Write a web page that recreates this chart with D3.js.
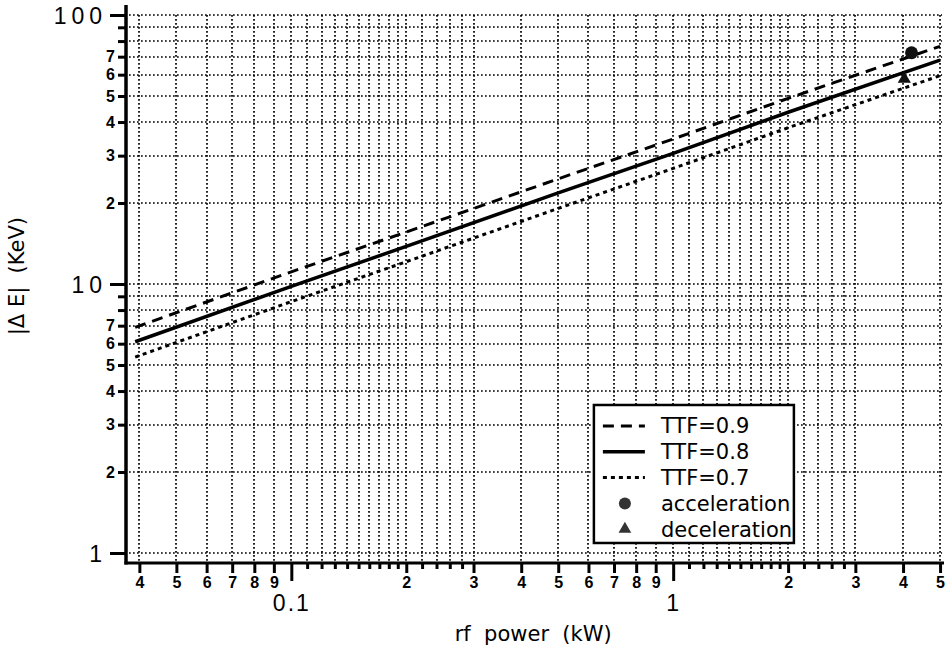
<!DOCTYPE html>
<meta charset="utf-8">
<script src="https://d3js.org/d3.v7.min.js"></script>
<style type="text/css">
body { margin:0; background:#fff; }
svg { display:block; }
.grid line { stroke:#000; stroke-width:1.7; stroke-dasharray:1.7,2.3; }
.digit { font-family:"Liberation Sans", Arial, sans-serif; font-weight:bold; font-size:16px; }
.major { font-family:"Liberation Sans", Arial, sans-serif; font-size:23px; }
.ymajor { letter-spacing:5px; }
.title, .legText { font-family:"DejaVu Sans", sans-serif; font-size:21px; white-space:pre; }
</style>
<body>
</body>
<script>

// rf power (kW) where the curves were read
var powers = [0.039, 0.1, 0.2, 0.5, 1, 2, 5];
// |dE| (KeV)
var ttf09 = [6.9, 11.1, 15.6, 24.6, 34.6, 49.0, 76.5];
var ttf08 = [6.1, 9.8, 13.8, 21.8, 30.6, 43.5, 68];
var ttf07 = [5.35, 8.6, 12.1, 19.1, 26.9, 38.1, 59.5];

// measured points
var accelP = [4.21], accelE = [72.4];
var decelP = [4.03], decelE = [57.8];

// ticks
var xDecades = [0.1, 1];
var xDecadeLabels = ["0.1", "1"];
var xLabeled = [0.04,0.05,0.06,0.07,0.08,0.09, 0.2,0.3,0.4,0.5,0.6,0.7,0.8,0.9, 2,3,4,5];
var xMinor = [0.11,0.12,0.13,0.14,0.15,0.16,0.17,0.18,0.19, 0.22,0.24,0.26,0.28,
              1.1,1.2,1.3,1.4,1.5,1.6,1.7,1.8,1.9, 2.2,2.4,2.6,2.8];
var yMajor = [1, 10, 100];
var yLabeled = [2,3,4,5,6,7, 20,30,40,50,60,70];
var yMinor = [8, 9, 80, 90];

var legendNames = ["TTF=0.9", "TTF=0.8", "TTF=0.7", "acceleration", "deceleration"];

var margin = {top: 15, right: 5, bottom: 90, left: 126};
var width = 949 - margin.left - margin.right,
    height = 653 - margin.top - margin.bottom;

var svg = d3.select('body').append('svg')
  .attr('width', 949)
  .attr('height', 653)
  .append('g')
  .attr('transform', 'translate(' + margin.left + ',' + margin.top + ')');

//scales
var xScale = d3.scaleLog()
  .domain([0.0369, 5.12])
  .range([0, width]);

var yScale = d3.scaleLog()
  .domain([0.918, 100])
  .range([height, 0]);

//grid
var gridX = xDecades.concat(xLabeled, xMinor);
var gridY = yMajor.concat(yLabeled, yMinor);

svg.append('g').attr('class','grid')
  .selectAll('line').data(gridX).enter().append('line')
  .attr('x1', function(d){return Math.round(xScale(d))}).attr('x2', function(d){return Math.round(xScale(d))})
  .attr('y1', yScale(100)).attr('y2', height);

svg.append('g').attr('class','grid')
  .selectAll('line').data(gridY).enter().append('line')
  .attr('x1', 3).attr('x2', xScale(5) + 2)
  .attr('y1', function(d){return Math.round(yScale(d))}).attr('y2', function(d){return Math.round(yScale(d))});

//x axis ticks
function styleAxis(g) {
  g.select('.domain').remove();
  g.selectAll('.tick line').attr('stroke','#000').attr('stroke-width',3);
}
function leadDigit(d) {
  return Math.round(d / Math.pow(10, Math.floor(Math.log10(d) + 1e-9)));
}

svg.append('g')
  .attr('transform','translate(0,'+height+')')
  .call(d3.axisBottom(xScale).tickValues(xMinor).tickSize(6).tickFormat(''))
  .call(styleAxis);

svg.append('g')
  .attr('transform','translate(0,'+height+')')
  .call(d3.axisBottom(xScale).tickValues(xLabeled).tickSize(10).tickPadding(4).tickFormat(leadDigit))
  .call(styleAxis)
  .selectAll('text').attr('class','digit').attr('font-family',null).attr('font-size',null);

svg.append('g')
  .attr('transform','translate(0,'+height+')')
  .call(d3.axisBottom(xScale).tickValues(xDecades).tickSize(18).tickPadding(14)
    .tickFormat(function(d,i){return xDecadeLabels[i]}))
  .call(styleAxis)
  .selectAll('text').attr('class','major').attr('font-family',null).attr('font-size',null)
  .style('letter-spacing','2px');

//y axis ticks
svg.append('g')
  .call(d3.axisLeft(yScale).tickValues(yMinor).tickSize(8).tickFormat(''))
  .call(styleAxis);

svg.append('g')
  .call(d3.axisLeft(yScale).tickValues(yLabeled).tickSize(8).tickPadding(3).tickFormat(leadDigit))
  .call(styleAxis)
  .selectAll('text').attr('class','digit').attr('font-family',null).attr('font-size',null);

svg.append('g')
  .call(d3.axisLeft(yScale).tickValues(yMajor).tickSize(16).tickPadding(3).tickFormat(d3.format('d')))
  .call(styleAxis)
  .selectAll('text').attr('class','major ymajor').attr('font-family',null).attr('font-size',null)
  .attr('dy','0.36em');

//axis lines
svg.append('line')
  .attr('x1',0).attr('x2',0)
  .attr('y1',yScale(100) - 10).attr('y2',height + 1.5)
  .attr('stroke','#000').attr('stroke-width',3.5);

svg.append('line')
  .attr('x1',-1.5).attr('x2',width)
  .attr('y1',height).attr('y2',height)
  .attr('stroke','#000').attr('stroke-width',3);

//curves
var series = [
  {name:'TTF=0.9', values:ttf09, dash:'11,7', w:3},
  {name:'TTF=0.8', values:ttf08, dash:null, w:3.5},
  {name:'TTF=0.7', values:ttf07, dash:'4,4', w:3}
];

var line = d3.line()
  .x(function(d){return xScale(d[0])})
  .y(function(d){return yScale(d[1])});

svg.selectAll('.curve')
  .data(series)
  .enter().append('path')
  .attr('class','curve')
  .attr('d', function(s){return line(powers.map(function(p,i){return [p, s.values[i]]}))})
  .attr('fill','none')
  .attr('stroke','#000')
  .attr('stroke-width', function(s){return s.w})
  .attr('stroke-dasharray', function(s){return s.dash});

//points
svg.selectAll('.accel')
  .data(accelP)
  .enter().append('circle')
  .attr('class','accel')
  .attr('cx', function(d){return xScale(d)})
  .attr('cy', function(d,i){return yScale(accelE[i])})
  .attr('r', 6.5)
  .attr('fill','#111');

svg.selectAll('.decel')
  .data(decelP)
  .enter().append('path')
  .attr('class','decel')
  .attr('transform', function(d,i){return 'translate('+xScale(d)+','+yScale(decelE[i])+')'})
  .attr('d', d3.symbol().type(d3.symbolTriangle).size(75))
  .attr('fill','#111');

//axis titles
svg.append('text')
  .attr('class','title')
  .attr('x', xScale(0.43))
  .attr('y', height + 78)
  .attr('text-anchor','middle')
  .text('rf  power  (kW)');

svg.append('text')
  .attr('class','title')
  .attr('transform','translate(' + (-102) + ',' + yScale(10.7) + ') rotate(-90)')
  .attr('text-anchor','middle')
  .text('|\u0394 E|  (KeV)');

//legend
var legend = svg.append('g')
  .attr('transform','translate(' + (xScale(0.62)) + ',' + (yScale(3.55)) + ')');

legend.append('rect')
  .attr('width',200).attr('height',138)
  .attr('fill','#fff').attr('stroke','#000').attr('stroke-width',2.5);

var rows = legend.selectAll('.legRow')
  .data(legendNames)
  .enter().append('g')
  .attr('class','legRow')
  .attr('transform', function(d,i){return 'translate(0,' + (21 + i * 25.8) + ')'});

rows.filter(function(d,i){return i < 3}).append('line')
  .attr('x1',9).attr('x2',51)
  .attr('stroke','#000')
  .attr('stroke-width', function(d,i){return series[i].w})
  .attr('stroke-dasharray', function(d,i){return series[i].dash});

rows.filter(function(d,i){return i == 3}).append('circle')
  .attr('cx',31).attr('r',6).attr('fill','#333');

rows.filter(function(d,i){return i == 4}).append('path')
  .attr('transform','translate(31,0)')
  .attr('d', d3.symbol().type(d3.symbolTriangle).size(70))
  .attr('fill','#333');

rows.append('text')
  .attr('class','legText')
  .attr('x',67).attr('y',7.5)
  .text(function(d){return d});

</script>
